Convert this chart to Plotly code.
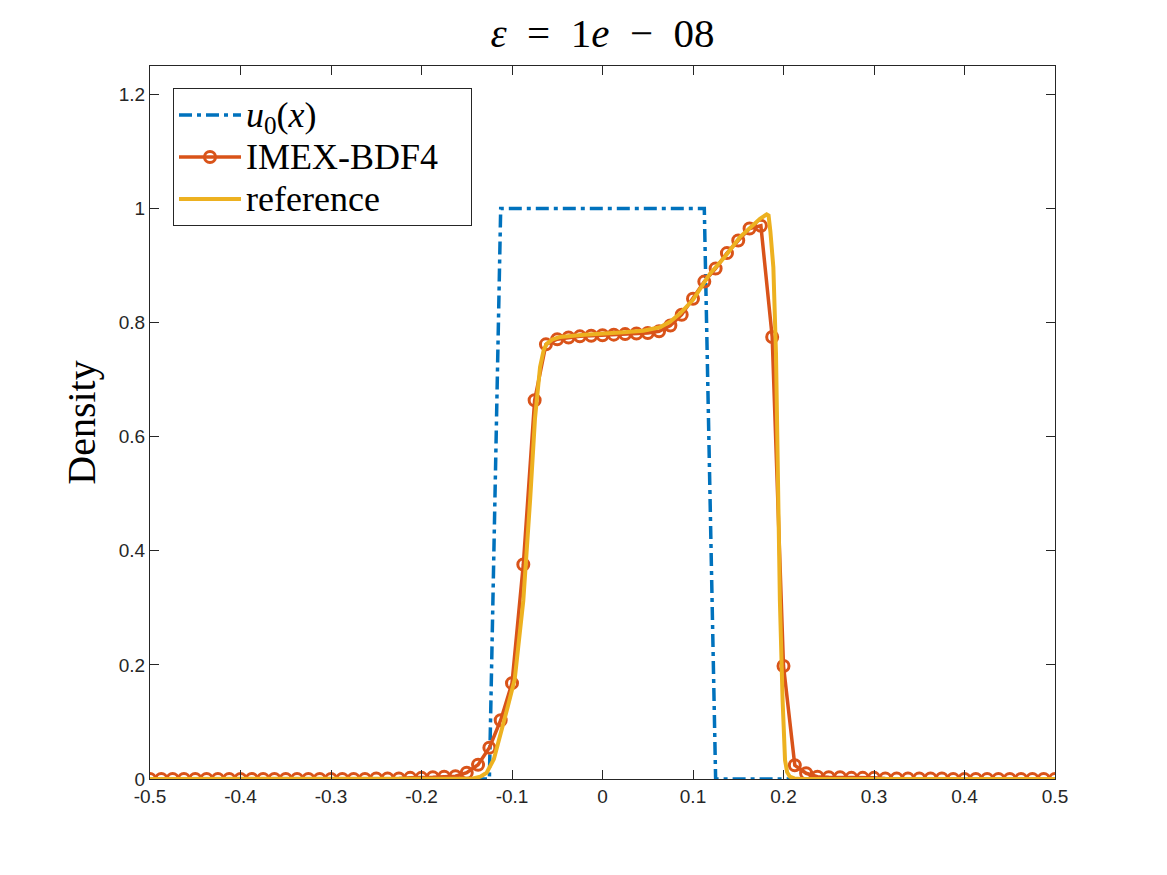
import numpy as np
import plotly.graph_objects as go

# grid of the numerical solution (81 points on [-0.5, 0.5])
x_grid = np.round(np.linspace(-0.5, 0.5, 81), 4)

u0_vals = [0.0] * 31 + [1.0] * 19 + [0.0] * 31

imex_vals = [0.0] * 20 + [0.001, 0.001, 0.001, 0.002, 0.002, 0.003,
             0.004, 0.005, 0.011, 0.025, 0.055, 0.103, 0.168, 0.376, 0.664, 0.762,
             0.771, 0.774, 0.776, 0.777, 0.778, 0.779, 0.780, 0.781, 0.782, 0.785,
             0.795, 0.814, 0.842, 0.872, 0.895, 0.922, 0.944, 0.965, 0.970, 0.775,
             0.198, 0.024, 0.010, 0.004, 0.003, 0.003, 0.002, 0.002, 0.002,
             0.001, 0.001, 0.001, 0.001, 0.001, 0.001] + [0.0] * 10

ref_x = [-0.5, -0.15, -0.143, -0.135, -0.128, -0.12, -0.113, -0.105, -0.097, -0.0875,
         -0.08, -0.0746, -0.069, -0.065, -0.0617, -0.055, -0.047, -0.02, 0.02, 0.045,
         0.0635, 0.075, 0.0856, 0.1, 0.1188, 0.135, 0.1519, 0.165, 0.174, 0.1814,
         0.1835, 0.1855, 0.1888, 0.1917, 0.196, 0.199, 0.2017, 0.204, 0.207, 0.212,
         0.22, 0.5]
ref_y = [0.0, 0.0, 0.001, 0.004, 0.011, 0.035, 0.08, 0.125, 0.175, 0.313,
         0.489, 0.632, 0.722, 0.752, 0.763, 0.771, 0.775, 0.779, 0.783, 0.786,
         0.792, 0.802, 0.816, 0.84, 0.886, 0.915, 0.950, 0.970, 0.982, 0.990,
         0.988, 0.96, 0.897, 0.746, 0.313, 0.138, 0.033, 0.012, 0.004, 0.001,
         0.0, 0.0]

x_ticks = [-0.5, -0.4, -0.3, -0.2, -0.1, 0, 0.1, 0.2, 0.3, 0.4, 0.5]
x_ticklabels = ["-0.5", "-0.4", "-0.3", "-0.2", "-0.1", "0", "0.1", "0.2", "0.3", "0.4", "0.5"]
y_ticks = [0, 0.2, 0.4, 0.6, 0.8, 1, 1.2]
y_ticklabels = ["0", "0.2", "0.4", "0.6", "0.8", "1", "1.2"]

BLUE = "#0072BD"
ORANGE = "#D95319"
YELLOW = "#EDB120"
AX = "#262626"
SERIF = "Liberation Serif, Times New Roman, serif"
SANS = "Liberation Sans, Arial, Helvetica, sans-serif"


def big(s):
    return '<span style="font-size:36px">' + s + '</span>'


fig = go.Figure()
fig.add_trace(go.Scatter(
    x=x_grid, y=u0_vals, mode="lines", name=big("<i>u</i><sub>0</sub>(<i>x</i>)"),
    line=dict(color=BLUE, width=3.5, dash="13px,5px,4px,5px"),
))
fig.add_trace(go.Scatter(
    x=x_grid, y=imex_vals, mode="lines+markers", name=big("IMEX-BDF4&nbsp;&nbsp;&nbsp;"),
    line=dict(color=ORANGE, width=3.5),
    marker=dict(symbol="circle-open", size=11, color=ORANGE, line=dict(width=3, color=ORANGE)),
))
fig.add_trace(go.Scatter(
    x=ref_x, y=ref_y, mode="lines", name=big("reference"),
    line=dict(color=YELLOW, width=4),
))

fig.update_layout(
    width=1167, height=875,
    margin=dict(l=150, r=112, t=66, b=96),
    paper_bgcolor="white", plot_bgcolor="white",
    title=dict(text="<i>ε</i>&nbsp;&nbsp;=&nbsp;&nbsp;1<i>e</i>&nbsp;&nbsp;−&nbsp;&nbsp;08",
               x=(150 + 905 / 2) / 1167, xanchor="center",
               y=1 - 33 / 875, yanchor="middle", yref="container",
               font=dict(family=SERIF, size=41, color="black")),
    showlegend=True,
    legend=dict(x=(173 - 150) / 905, y=(779 - 88) / 713, xanchor="left", yanchor="top",
                bgcolor="white", bordercolor=AX, borderwidth=1,
                font=dict(family=SERIF, size=30, color="black"),
                itemwidth=62, tracegroupgap=0),
    xaxis=dict(range=[-0.5, 0.5], tickvals=x_ticks, ticktext=x_ticklabels,
               ticks="inside", ticklen=9, tickcolor=AX, showline=True, linecolor=AX,
               linewidth=1, mirror="ticks", showgrid=False, zeroline=False,
               tickfont=dict(family=SANS, size=19, color=AX)),
    yaxis=dict(range=[0, 1.25], tickvals=y_ticks, ticktext=y_ticklabels,
               ticks="inside", ticklen=9, tickcolor=AX, showline=True, linecolor=AX,
               linewidth=1, mirror="ticks", showgrid=False, zeroline=False,
               tickfont=dict(family=SANS, size=19, color=AX),
               title=dict(text="Density", font=dict(family=SERIF, size=40, color="black"),
                          standoff=10)),
)

fig.write_html("out.html")
